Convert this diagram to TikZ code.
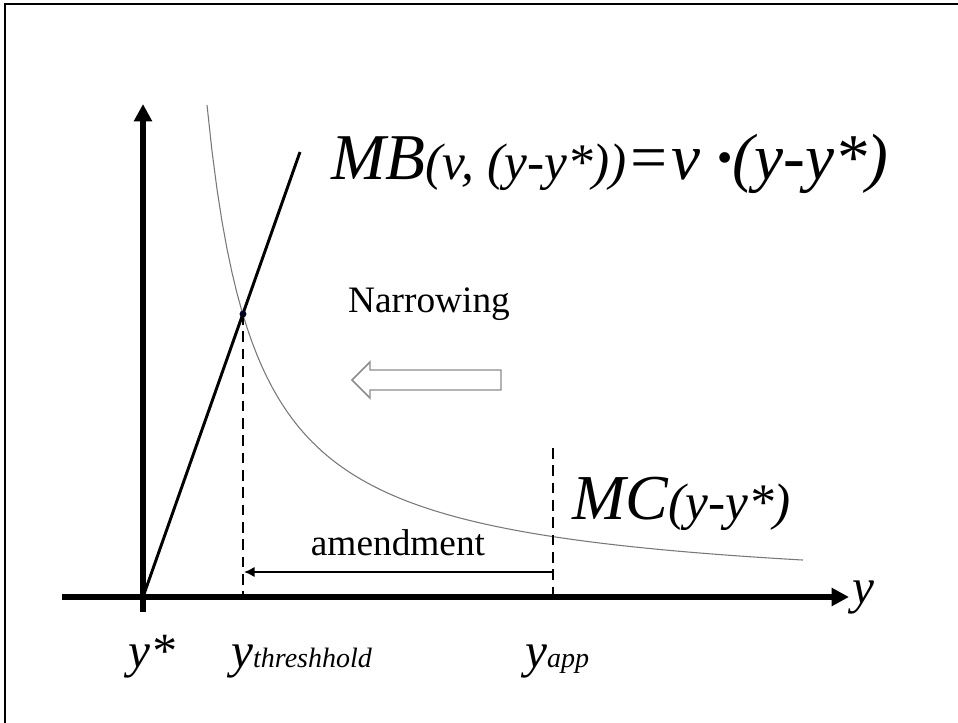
\documentclass[tikz,border=0pt]{standalone}
\usepackage{fontspec}
\setmainfont{Liberation Serif}
\usepackage{tikz}
\usetikzlibrary{arrows.meta,positioning,calc}
\definecolor{curveGray}{RGB}{120,120,120}
\definecolor{hollowGray}{RGB}{140,140,140}
\newcommand{\bigit}{\fontsize{49}{52}\selectfont\itshape}
\newcommand{\mcit}{\fontsize{48}{51}\selectfont\itshape}
\newcommand{\midit}{\fontsize{37}{40}\selectfont\itshape}
\newcommand{\smallit}{\fontsize{21}{24}\selectfont\itshape}
\newcommand{\paren}{\fontsize{38.5}{41}\selectfont\itshape}
\tikzset{
  axis/.style={line width=3.8pt,-{Triangle[length=13pt,width=13pt]}},
  mbline/.style={line width=2.2pt},
  mccurve/.style={curveGray,line width=0.8pt},
  guide/.style={line width=1.2pt,dash pattern=on 8pt off 5pt},
  amend/.style={line width=2.2pt,-{Latex[length=8pt,width=8pt]}},
  lbl/.style={inner sep=0pt,anchor=base west}
}
\begin{document}
\begin{tikzpicture}[x=0.75pt,y=-0.75pt]
        \useasboundingbox (0,0) rectangle (958,723);
        % Rahmen
        \draw[line width=2pt](5,723)--(5,4)--(958,4);
        % Achsen
        \coordinate (O) at (143,597);
        \coordinate (ybot) at (143,612);
        \coordinate (ytop) at (143,104);
        \coordinate (xleft) at (62,597);
        \coordinate (xright) at (849,597);
        \draw[axis](ybot)--(ytop);
        \draw[axis](xleft)--(xright);
        \node[lbl] (ylab) at (852,604) {\midit y};
        % Kurven
        \coordinate (mbend) at (300,152);
        \coordinate (S) at (243,314);
        \draw[mbline](O)--(mbend);
        \draw[mccurve] plot[domain=207:803,samples=120]
          (\x,{597-238.13/((\x-158.6)/100)});
        \fill[black!85!blue] (S) circle (2.6pt);
        % Hilfslinien
        \coordinate (thr) at (243,597);
        \coordinate (apptop) at (553,448);
        \coordinate (app) at (553,597);
        \draw[guide](S)--(thr);
        \draw[guide](apptop)--(app);
        \coordinate (amR) at (553,572);
        \coordinate (amL) at (244,572);
        \draw[amend](amR)--(amL);
        \node[font=\fontsize{28}{30}\selectfont,anchor=base] (amtxt)
          at (398,556) {amendment};
        % Narrowing
        \node[font=\fontsize{28}{30}\selectfont,anchor=base] (narrow)
          at (429,313) {Narrowing};
        \draw[hollowGray,line width=1.1pt,fill=white]
          (352,380)--(370,362)--(370,370)--(501,370)--(501,390)
          --(370,390)--(370,398)--cycle;
        % Beschriftungen
        \node[lbl] (mblab) at (331,180)
          {{\bigit MB}{\paren (v, (y-y*))}{\bigit =v \textbf{·}(y-y*)}};
        \node[lbl] (mclab) at (572,520)
          {{\mcit MC}{\paren (y-y*)}};
        \node[lbl] (ystar) at (128,668) {\midit y*};
        \node[lbl] (ythr) at (231,668)
          {{\midit y}{\smallit threshhold}};
        \node[lbl] (yapp) at (525,668)
          {{\midit y}{\smallit app}};
      \end{tikzpicture}
\end{document}
